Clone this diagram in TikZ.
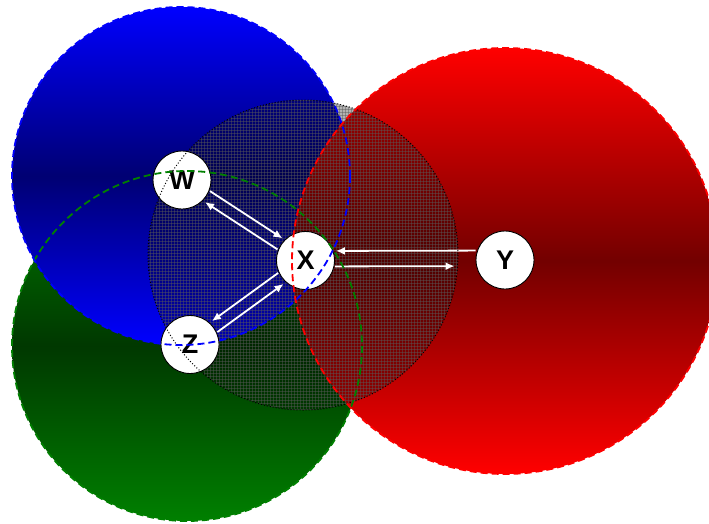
\documentclass[tikz,border=0pt]{standalone}
\usepackage{fontspec}
\setmainfont{Liberation Sans}
\usetikzlibrary{patterns,arrows.meta}
\begin{document}
\begin{tikzpicture}[x=1pt,y=-1pt,
  vtx/.style={circle, draw=black, fill=white, minimum size=58pt, inner sep=0pt, line width=0.9pt,
    font=\fontsize{27}{30}\selectfont\bfseries},
  arr/.style={draw=white, line width=1.8pt, -{Latex[length=9pt,width=8pt]}},
  rim/.style={line width=1.8pt, dash pattern=on 7pt off 4pt}]
\useasboundingbox (0,0) rectangle (709,523);
% shaded discs
\shade[top color=green!50!black, bottom color=green!50!black, middle color=green!22!black]
  (187,346) circle[radius=175];
\shade[top color=blue, bottom color=blue, middle color=blue!45!black]
  (181,176) circle[radius=169];
\shade[top color=red, bottom color=red, middle color=red!45!black]
  (505,261) circle[radius=213];
% mesh disc
\fill[black, fill opacity=0.3] (303,255) circle[radius=155];
\fill[pattern=grid, pattern color=gray!70!black, opacity=0.45] (303,255) circle[radius=155];
% nodes
\node[vtx] (W) at (182,180) {W};
\node[vtx] (X) at (305.5,260.5) {X};
\node[vtx] (Y) at (505,260) {Y};
\node[vtx] (Z) at (190,344.5) {Z};
% arrows
\draw[arr, shorten >=2pt, transform canvas={xshift=3.3pt,yshift=5pt}] (W) -- (X);
\draw[arr, shorten >=2pt, transform canvas={xshift=-3.3pt,yshift=-5pt}] (X) -- (W);
\draw[arr, shorten >=2pt, transform canvas={xshift=-3.5pt,yshift=4.9pt}] (X) -- (Z);
\draw[arr, shorten >=2pt, transform canvas={xshift=3.5pt,yshift=-4.9pt}] (Z) -- (X);
\draw[arr, shorten >=1pt, transform canvas={yshift=9.5pt}] (Y) -- (X);
\draw[arr, shorten >=21pt, transform canvas={yshift=-6pt}] (X) -- (Y);
% rims on top
\draw[black, line width=1pt, dotted] (303,255) circle[radius=155];
\draw[rim, draw=green!50!black] (187,346) circle[radius=175];
\draw[rim, draw=blue] (181,176) circle[radius=169];
\draw[rim, draw=red] (505,261) circle[radius=213];
\end{tikzpicture}
\end{document}
